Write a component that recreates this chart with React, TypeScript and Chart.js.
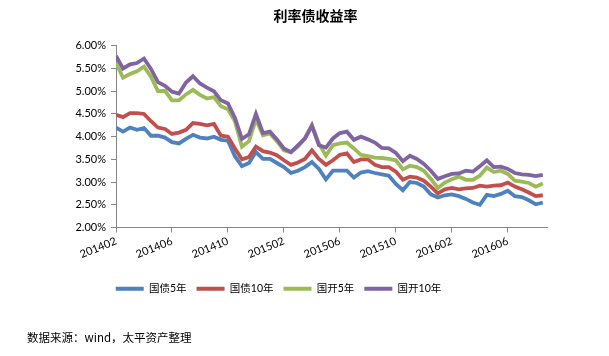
import React, { useEffect, useRef } from "react";
import { Chart, registerables } from "chart.js";

Chart.register(...registerables);

// Half-month sampling from 2014-02 to 2016-08 (values in %)
const X_TICK_LABELS = ["201402", "201406", "201410", "201502", "201506", "201510", "201602", "201606"];
const SERIES_NAMES = ["国债5年", "国债10年", "国开5年", "国开10年"];
const COLORS = ["#4F81BD", "#C0504D", "#9BBB59", "#8064A2"];

const gz5 = [
  4.20, 4.11, 4.20, 4.15, 4.19, 4.02, 4.02, 3.98, 3.88, 3.85,
  3.95, 4.04, 3.98, 3.96, 4.00, 3.93, 3.91, 3.57, 3.35, 3.42,
  3.66, 3.51, 3.51, 3.42, 3.33, 3.20, 3.25, 3.33, 3.44, 3.29,
  3.06, 3.25, 3.25, 3.25, 3.10, 3.21, 3.24, 3.20, 3.17, 3.14,
  2.96, 2.82, 3.00, 2.98, 2.90, 2.73, 2.66, 2.71, 2.73, 2.69,
  2.63, 2.55, 2.50, 2.72, 2.69, 2.74, 2.81, 2.69, 2.67, 2.60,
  2.51, 2.55,
];
const gz10 = [
  4.48, 4.43, 4.52, 4.52, 4.50, 4.34, 4.20, 4.17, 4.06, 4.09,
  4.15, 4.30, 4.28, 4.25, 4.28, 4.02, 4.00, 3.74, 3.50, 3.55,
  3.78, 3.68, 3.65, 3.59, 3.48, 3.38, 3.43, 3.51, 3.70, 3.51,
  3.38, 3.48, 3.60, 3.63, 3.44, 3.50, 3.50, 3.38, 3.33, 3.33,
  3.23, 3.05, 3.12, 3.10, 3.03, 2.90, 2.75, 2.84, 2.87, 2.84,
  2.86, 2.87, 2.92, 2.90, 2.92, 2.93, 2.99, 2.90, 2.84, 2.77,
  2.69, 2.71,
];
const gk5 = [
  5.62, 5.30, 5.38, 5.44, 5.54, 5.32, 5.00, 5.01, 4.80, 4.80,
  4.93, 5.03, 4.92, 4.84, 4.87, 4.67, 4.60, 4.34, 3.78, 3.90,
  4.38, 4.03, 4.07, 3.90, 3.70, 3.66, 3.78, 3.96, 4.26, 3.85,
  3.58, 3.81, 3.85, 3.87, 3.74, 3.60, 3.57, 3.54, 3.53, 3.51,
  3.48, 3.28, 3.36, 3.33, 3.25, 3.07, 2.87, 2.99, 3.06, 3.12,
  3.05, 3.05, 3.14, 3.32, 3.22, 3.25, 3.18, 3.03, 3.01, 2.98,
  2.90, 2.97,
];
const gk10 = [
  5.78, 5.50, 5.59, 5.62, 5.72, 5.49, 5.20, 5.12, 4.99, 4.95,
  5.19, 5.33, 5.17, 5.08, 5.00, 4.80, 4.73, 4.41, 3.95, 4.05,
  4.50, 4.08, 4.11, 3.94, 3.74, 3.66, 3.81, 3.96, 4.24, 3.81,
  3.76, 3.96, 4.08, 4.11, 3.93, 4.00, 3.94, 3.87, 3.75, 3.74,
  3.64, 3.46, 3.58, 3.51, 3.40, 3.25, 3.07, 3.13, 3.18, 3.19,
  3.25, 3.23, 3.35, 3.48, 3.33, 3.34, 3.29, 3.20, 3.17, 3.16,
  3.13, 3.16,
];

const SERIES = [gz5, gz10, gk5, gk10];

const AXIS_COLOR = "#868686";
const TITLE_SHIFT = 42;
const LEGEND_SHIFT = 5;

const shiftPlugin = {
  id: "shiftBoxes",
  afterLayout(chart: any) {
    const t = chart.titleBlock;
    if (t) {
      t.left += TITLE_SHIFT;
      t.right += TITLE_SHIFT;
    }
    const lg = chart.legend;
    if (lg) {
      lg.left += LEGEND_SHIFT;
      lg.right += LEGEND_SHIFT;
    }
  },
};

export default function App() {
  const canvasRef = useRef<HTMLCanvasElement | null>(null);

  useEffect(() => {
    const canvas = canvasRef.current;
    if (!canvas) return;
    const datasets = SERIES.map((vals, si) => ({
      label: SERIES_NAMES[si],
      data: vals.map((v, i) => ({ x: i / 2, y: v })),
      borderColor: COLORS[si],
      backgroundColor: COLORS[si],
      borderWidth: 3.8,
      pointRadius: 0,
      tension: 0,
      order: SERIES.length - si,
    }));

    const chart = new Chart(canvas, {
      type: "line",
      data: { datasets },
      plugins: [shiftPlugin],
      options: {
        responsive: false,
        animation: false,
        layout: { padding: { left: 0, right: 62, top: 0, bottom: 52 } },
        plugins: {
          tooltip: { enabled: false },
          title: {
            display: true,
            text: "利率债收益率",
            color: "#000",
            font: { family: "'Noto Sans CJK SC'", size: 14, weight: "bold" },
            padding: { top: 7, bottom: 22 },
          },
          legend: {
            position: "bottom",
            labels: {
              boxWidth: 28,
              boxHeight: 4,
              padding: 10,
              color: "#000",
              font: { family: "Lato, 'Noto Sans CJK SC'", size: 10.5 },
              sort: (a: any, b: any) => a.datasetIndex - b.datasetIndex,
              generateLabels: (c: any) =>
                Chart.defaults.plugins.legend.labels.generateLabels(c).map((l: any) => ({
                  ...l,
                  fillStyle: COLORS[l.datasetIndex],
                  lineWidth: 0,
                })),
            },
          },
        },
        scales: {
          x: {
            type: "linear",
            min: 0,
            max: 30.8,
            afterFit: (s: any) => {
              s.height = 46;
            },
            grid: {
              drawOnChartArea: false,
              drawTicks: true,
              tickLength: 5,
              color: AXIS_COLOR,
            },
            border: { display: true, color: AXIS_COLOR, width: 1 },
            ticks: {
              stepSize: 4,
              includeBounds: false,
              autoSkip: false,
              minRotation: 22,
              maxRotation: 22,
              padding: 2,
              color: "#000",
              font: { family: "Lato", size: 11 },
              callback: (v: any) => X_TICK_LABELS[Math.round(Number(v) / 4)] ?? "",
            },
          },
          y: {
            min: 2,
            max: 6,
            afterFit: (s: any) => {
              s.width = 116;
            },
            grid: {
              drawOnChartArea: false,
              drawTicks: true,
              tickLength: 5,
              color: AXIS_COLOR,
            },
            border: { display: true, color: AXIS_COLOR, width: 1 },
            ticks: {
              stepSize: 0.5,
              padding: 5,
              color: "#000",
              font: { family: "Lato", size: 11 },
              callback: (v: any) => Number(v).toFixed(2) + "%",
            },
          },
        },
      },
    });
    return () => chart.destroy();
  }, []);

  return (
    <div style={{ position: "absolute", left: 0, top: 0, width: 609, height: 356, background: "#fff" }}>
      <canvas ref={canvasRef} width={609} height={356} style={{ width: 609, height: 356, display: "block" }} />
      <div
        style={{
          position: "absolute",
          left: 27,
          top: 328,
          fontSize: 11.5,
          lineHeight: "18px",
          fontFamily: "'Noto Sans CJK SC', sans-serif",
          color: "#000",
          whiteSpace: "nowrap",
        }}
      >
        数据来源：wind，太平资产整理
      </div>
    </div>
  );
}
